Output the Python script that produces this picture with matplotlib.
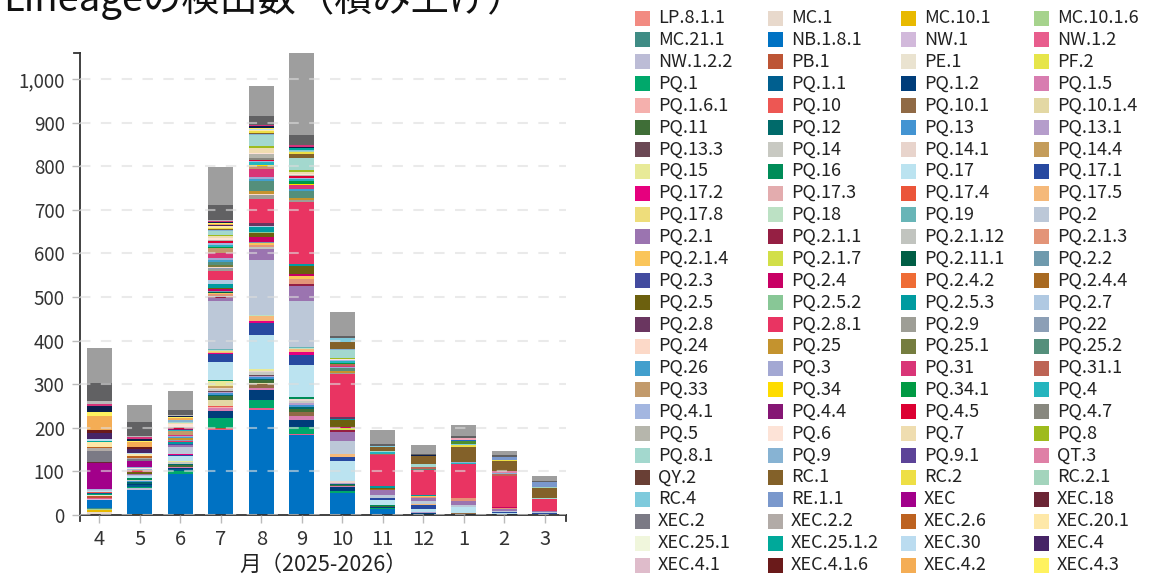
import matplotlib
matplotlib.use("Agg")
import matplotlib.pyplot as plt
from matplotlib.patches import Rectangle
from matplotlib.ticker import FuncFormatter, MultipleLocator
import pandas as pd

plt.rcParams["font.family"] = ["Noto Sans CJK JP", "DejaVu Sans"]

W, H = 1157, 575

month_labels = ["4", "5", "6", "7", "8", "9", "10", "11", "12", "1", "2", "3"]

lineages = [
    "LP.8.1.1", "MC.1", "MC.10.1", "MC.10.1.6",
    "MC.21.1", "NB.1.8.1", "NW.1", "NW.1.2",
    "NW.1.2.2", "PB.1", "PE.1", "PF.2",
    "PQ.1", "PQ.1.1", "PQ.1.2", "PQ.1.5",
    "PQ.1.6.1", "PQ.10", "PQ.10.1", "PQ.10.1.4",
    "PQ.11", "PQ.12", "PQ.13", "PQ.13.1",
    "PQ.13.3", "PQ.14", "PQ.14.1", "PQ.14.4",
    "PQ.15", "PQ.16", "PQ.17", "PQ.17.1",
    "PQ.17.2", "PQ.17.3", "PQ.17.4", "PQ.17.5",
    "PQ.17.8", "PQ.18", "PQ.19", "PQ.2",
    "PQ.2.1", "PQ.2.1.1", "PQ.2.1.12", "PQ.2.1.3",
    "PQ.2.1.4", "PQ.2.1.7", "PQ.2.11.1", "PQ.2.2",
    "PQ.2.3", "PQ.2.4", "PQ.2.4.2", "PQ.2.4.4",
    "PQ.2.5", "PQ.2.5.2", "PQ.2.5.3", "PQ.2.7",
    "PQ.2.8", "PQ.2.8.1", "PQ.2.9", "PQ.22",
    "PQ.24", "PQ.25", "PQ.25.1", "PQ.25.2",
    "PQ.26", "PQ.3", "PQ.31", "PQ.31.1",
    "PQ.33", "PQ.34", "PQ.34.1", "PQ.4",
    "PQ.4.1", "PQ.4.4", "PQ.4.5", "PQ.4.7",
    "PQ.5", "PQ.6", "PQ.7", "PQ.8",
    "PQ.8.1", "PQ.9", "PQ.9.1", "QT.3",
    "QY.2", "RC.1", "RC.2", "RC.2.1",
    "RC.4", "RE.1.1", "XEC", "XEC.18",
    "XEC.2", "XEC.2.2", "XEC.2.6", "XEC.20.1",
    "XEC.25.1", "XEC.25.1.2", "XEC.30", "XEC.4",
    "XEC.4.1", "XEC.4.1.6", "XEC.4.2", "XEC.4.3",
    # legend rows below are cut off by the figure edge
    "XEC.5", "XEC.8", "XFG", "XFG.3",
    "XFJ", "XFV", "XFC", "その他",
]

colors = [
    "#f28b82", "#e8d9cc", "#e8b900", "#a6d38d",
    "#3f8c85", "#0072c3", "#d2b9db", "#e85d8d",
    "#bcbcd6", "#bd5535", "#eae3d0", "#e6e54a",
    "#00a86b", "#005f8f", "#003d7a", "#d87db0",
    "#f5b0ad", "#ed5753", "#906a45", "#e3d8a4",
    "#3f6e37", "#006a6a", "#4394d2", "#b59dcb",
    "#6b4854", "#c8c9c2", "#e8d4cc", "#c49c5a",
    "#e8ea98", "#008c58", "#bbe3f0", "#2749a0",
    "#e6007e", "#e3acae", "#eb553a", "#f5b97a",
    "#eedd7b", "#bce1c4", "#68b5b7", "#bcc8d8",
    "#9b74b0", "#951f43", "#c1c4bf", "#e39478",
    "#fac55a", "#d2df48", "#005e45", "#6f9aad",
    "#434b9f", "#c80064", "#ef6c35", "#a86a22",
    "#6c600e", "#88c796", "#009ba0", "#b0c9e2",
    "#6a3660", "#e93462", "#9e9e96", "#8c9fb6",
    "#fcd9c8", "#c4932e", "#757d3f", "#548f7b",
    "#429fcd", "#a3a8d3", "#d93577", "#bd6455",
    "#c29a6b", "#fedc00", "#009a44", "#25b5be",
    "#a3b6e0", "#851674", "#dc0032", "#88887f",
    "#b6b6ac", "#fde3d7", "#efddb0", "#9ebb1d",
    "#a3d8ce", "#87b3d3", "#5c4398", "#df80a6",
    "#693f35", "#836129", "#eedf45", "#a3d4bc",
    "#7ecadc", "#7a98cc", "#a2008a", "#6b2535",
    "#7b7a85", "#b2aba7", "#bd6220", "#fee8a8",
    "#f0f6dc", "#00a99a", "#bbdcf0", "#462466",
    "#dfbccb", "#6a1a1a", "#f4ad55", "#fff25f",
    "#0d1f4c", "#d6337a", "#4e8f2f", "#2066c8",
    "#f2a7b8", "#b9b9b9", "#616163", "#9e9e9e",
]

# counts per month (lineages not listed are 0)
m04 = {"LP.8.1.1": 2, "MC.1": 5, "MC.10.1": 4, "MC.10.1.6": 2, "MC.21.1": 4, "NB.1.8.1": 17,
       "NW.1": 2, "NW.1.2": 2, "PB.1": 6, "PE.1": 2, "PQ.1": 3, "PQ.1.1": 2, "PQ.10": 2,
       "PQ.17": 2, "PQ.2": 2, "PQ.4.1": 2, "XEC": 61, "XEC.18": 2, "XEC.2": 24, "XEC.2.2": 8,
       "XEC.2.6": 2, "XEC.20.1": 11, "XEC.25.1.2": 2, "XEC.30": 6, "XEC.4": 13, "XEC.4.1.6": 8,
       "XEC.4.2": 31, "XEC.4.3": 9, "XEC.5": 14, "XEC.8": 4, "XFV": 8, "XFC": 41, "その他": 81}
m05 = {"MC.10.1": 3, "NB.1.8.1": 54, "NW.1.2.2": 4, "PQ.1": 4, "PQ.1.1": 3, "PQ.1.2": 2,
       "PQ.1.5": 2, "PQ.12": 3, "PQ.13": 2, "PQ.14": 3, "PQ.16": 5, "PQ.17": 4, "PQ.2": 3,
       "PQ.2.1": 3, "PQ.2.5": 4, "PQ.2.8.1": 3, "PQ.33": 2, "PQ.4.1": 1, "PQ.6": 2, "PQ.9": 2,
       "XEC": 15, "XEC.2": 4, "XEC.2.2": 3, "XEC.2.6": 5, "XEC.20.1": 3, "XEC.30": 4, "XEC.4": 8,
       "XEC.4.1.6": 6, "XEC.4.2": 11, "XEC.4.3": 2, "XEC.5": 5, "XEC.8": 3, "XFV": 4, "XFC": 31,
       "その他": 40}
m06 = {"NB.1.8.1": 93, "PQ.1": 9, "PQ.1.1": 3, "PQ.1.2": 3, "PQ.1.5": 3, "PQ.11": 3, "PQ.12": 2,
       "PQ.13": 2, "PQ.14": 3, "PQ.15": 3, "PQ.17": 11, "PQ.17.1": 2, "PQ.17.2": 4, "PQ.2": 15,
       "PQ.2.1": 4, "PQ.2.3": 2, "PQ.2.4": 2, "PQ.2.5.3": 3, "PQ.2.8.1": 3, "PQ.22": 3, "PQ.25": 3,
       "PQ.26": 2, "PQ.3": 3, "PQ.31": 3, "PQ.33": 9, "PQ.4": 2, "PQ.4.4": 2, "PQ.4.5": 3,
       "PQ.5": 3, "PQ.6": 5, "PQ.7": 4, "PQ.8.1": 2, "PQ.9": 3, "XEC.20.1": 2, "XEC.4.2": 3,
       "XEC.4.3": 2, "XEC.5": 3, "XFV": 3, "XFC": 11, "その他": 44}
m07 = {"LP.8.1.1": 1, "NB.1.8.1": 193, "NW.1.2": 4, "PB.1": 2, "PQ.1": 22, "PQ.1.2": 16,
       "PQ.1.5": 8, "PQ.1.6.1": 2, "PQ.10": 3, "PQ.10.1.4": 14, "PQ.11": 8, "PQ.12": 2,
       "PQ.13": 4, "PQ.13.1": 3, "PQ.13.3": 2, "PQ.14": 5, "PQ.14.1": 3, "PQ.14.4": 5,
       "PQ.15": 11, "PQ.16": 2, "PQ.17": 40, "PQ.17.1": 19, "PQ.17.2": 2, "PQ.17.5": 3,
       "PQ.17.8": 3, "PQ.18": 2, "PQ.19": 2, "PQ.2": 110, "PQ.2.1": 8, "PQ.2.1.1": 2,
       "PQ.2.1.12": 2, "PQ.2.1.3": 3, "PQ.2.1.4": 3, "PQ.2.11.1": 3, "PQ.2.2": 3, "PQ.2.4": 3,
       "PQ.2.5": 2, "PQ.2.5.3": 9, "PQ.2.7": 11, "PQ.2.8.1": 19, "PQ.2.9": 5, "PQ.22": 2,
       "PQ.24": 2, "PQ.25": 2, "PQ.25.1": 3, "PQ.25.2": 8, "PQ.26": 3, "PQ.3": 6, "PQ.31": 11,
       "PQ.33": 11, "PQ.34.1": 4, "PQ.4": 4, "PQ.4.1": 3, "PQ.4.5": 5, "PQ.5": 3, "PQ.6": 5,
       "PQ.7": 4, "PQ.8": 2, "PQ.8.1": 10, "PQ.9": 3, "RC.1": 2, "RC.2": 2, "XEC.20.1": 3,
       "XEC.30": 2, "XEC.4": 2, "XEC.4.2": 2, "XEC.4.3": 2, "XEC.5": 2, "XEC.8": 2, "XFV": 3,
       "XFC": 34, "その他": 88}
m08 = {"NB.1.8.1": 241, "NW.1.2": 4, "PQ.1": 19, "PQ.1.2": 23, "PQ.1.5": 5, "PQ.10.1": 8,
       "PQ.10.1.4": 3, "PQ.11": 7, "PQ.12": 3, "PQ.13": 3, "PQ.13.1": 3, "PQ.13.3": 2,
       "PQ.14": 6, "PQ.14.1": 4, "PQ.15": 4, "PQ.17": 78, "PQ.17.1": 28, "PQ.17.2": 5,
       "PQ.17.5": 11, "PQ.18": 3, "PQ.2": 126, "PQ.2.1": 25, "PQ.2.1.12": 5, "PQ.2.1.3": 4,
       "PQ.2.1.4": 4, "PQ.2.2": 3, "PQ.2.4": 11, "PQ.2.5": 9, "PQ.2.5.2": 3, "PQ.2.5.3": 10,
       "PQ.2.7": 3, "PQ.2.8": 6, "PQ.2.8.1": 55, "PQ.2.9": 10, "PQ.24": 2, "PQ.25": 8,
       "PQ.25.2": 23, "PQ.26": 5, "PQ.3": 3, "PQ.31": 18, "PQ.33": 8, "PQ.34": 3, "PQ.4": 5,
       "PQ.4.1": 3, "PQ.4.5": 3, "PQ.4.7": 3, "PQ.5": 10, "PQ.6": 3, "PQ.7": 11, "PQ.8": 5,
       "PQ.8.1": 24, "PQ.9": 3, "RC.1": 3, "RC.2": 3, "XEC.20.1": 3, "XEC.30": 3, "XEC.4.3": 3,
       "XEC.5": 3, "XEC.8": 3, "XFC": 20, "その他": 69}
m09 = {"NB.1.8.1": 183, "NW.1.2": 3, "PQ.1": 15, "PQ.1.2": 17, "PQ.1.5": 8, "PQ.10.1": 10,
       "PQ.11": 8, "PQ.12": 4, "PQ.13": 4, "PQ.13.1": 4, "PQ.14": 6, "PQ.14.1": 5, "PQ.16": 4,
       "PQ.17": 73, "PQ.17.1": 24, "PQ.17.2": 6, "PQ.17.5": 6, "PQ.18": 3, "PQ.19": 2,
       "PQ.2": 105, "PQ.2.1": 35, "PQ.2.1.1": 5, "PQ.2.1.3": 12, "PQ.2.1.4": 6, "PQ.2.4": 6,
       "PQ.2.5": 17, "PQ.2.5.3": 5, "PQ.2.8.1": 141, "PQ.2.9": 6, "PQ.25": 5, "PQ.25.2": 15,
       "PQ.26": 5, "PQ.31": 8, "PQ.34": 3, "PQ.34.1": 8, "PQ.4": 4, "PQ.4.1": 2, "PQ.4.5": 4,
       "PQ.5": 3, "PQ.6": 3, "PQ.7": 4, "PQ.8": 4, "PQ.8.1": 27, "RC.1": 11, "RC.2": 3,
       "RC.2.1": 3, "RC.4": 3, "XEC.25.1.2": 3, "XEC.30": 2, "XEC.5": 2, "XEC.8": 3, "XFC": 24,
       "その他": 188}
m10 = {"NB.1.8.1": 51, "PQ.1": 4, "PQ.1.2": 9, "PQ.1.5": 2, "PQ.11": 3, "PQ.12": 2,
       "PQ.13.1": 3, "PQ.14.1": 4, "PQ.17": 46, "PQ.17.1": 10, "PQ.17.5": 7, "PQ.2": 29,
       "PQ.2.1": 21, "PQ.2.1.1": 3, "PQ.2.1.4": 2, "PQ.2.1.7": 3, "PQ.2.4": 3, "PQ.2.5": 15,
       "PQ.2.5.3": 4, "PQ.2.8": 3, "PQ.2.8.1": 99, "PQ.2.9": 2, "PQ.25": 6, "PQ.25.2": 7,
       "PQ.3": 2, "PQ.31": 2, "PQ.31.1": 4, "PQ.34.1": 2, "PQ.4": 5, "PQ.4.1": 3, "PQ.6": 2,
       "PQ.8": 2, "PQ.8.1": 18, "PQ.9": 3, "RC.1": 15, "RC.2": 2, "RC.4": 7, "XFC": 6,
       "その他": 55}
m11 = {"NB.1.8.1": 13, "PQ.1": 3, "PQ.1.2": 3, "PQ.11": 1, "PQ.16": 2, "PQ.17": 12,
       "PQ.17.1": 4, "PQ.2": 9, "PQ.2.1": 10, "PQ.2.4.4": 2, "PQ.2.5": 3, "PQ.2.5.3": 5,
       "PQ.2.8.1": 71, "PQ.31.1": 3, "PQ.4": 3, "PQ.8.1": 2, "RC.1": 9, "RC.2": 2, "RC.4": 2,
       "XFC": 3, "その他": 33}
m12 = {"PQ.1.1": 2, "PQ.1.2": 3, "PQ.13.1": 1, "PQ.17": 7, "PQ.17.1": 10, "PQ.17.5": 2,
       "PQ.2": 8, "PQ.2.1": 7, "PQ.2.1.3": 2, "PQ.2.1.4": 2, "PQ.2.5.3": 3, "PQ.2.8.1": 57,
       "PQ.25.2": 2, "PQ.31.1": 3, "PQ.4": 2, "PQ.8.1": 5, "QT.3": 2, "RC.1": 17, "RC.4": 1,
       "XEC.5": 2, "XFC": 3, "その他": 19}
m01 = {"PQ.1.2": 2, "PQ.10.1": 3, "PQ.17": 13, "PQ.2": 5, "PQ.2.1": 9, "PQ.2.1.3": 8,
       "PQ.2.8.1": 78, "PQ.4": 2, "PQ.9": 2, "RC.1": 34, "RC.2": 4, "RC.4": 3, "XFG": 6,
       "XFG.3": 3, "XFJ": 4, "XFC": 5, "その他": 25}
m02 = {"PQ.1.2": 2, "PQ.17": 3, "PQ.17.1": 2, "PQ.2": 3, "PQ.2.1": 3, "PQ.2.1.3": 3,
       "PQ.2.4": 3, "PQ.2.8.1": 70, "PQ.31.1": 6, "PQ.9": 2, "QT.3": 3, "RC.1": 25, "RC.2": 2,
       "RE.1.1": 7, "XFC": 4, "その他": 9}
m03 = {"PQ.1.2": 1, "PQ.17": 2, "PQ.17.1": 2, "PQ.2": 2, "PQ.2.1": 2, "PQ.2.8.1": 27,
       "PQ.8.1": 3, "RC.1": 23, "RC.2.1": 2, "RE.1.1": 12, "XFC": 2, "その他": 11}

monthly = [m04, m05, m06, m07, m08, m09, m10, m11, m12, m01, m02, m03]
df = pd.DataFrame(monthly, index=month_labels)
unknown = set(df.columns) - set(lineages)
if unknown:
    raise ValueError(f"unknown lineages: {unknown}")
df = df.reindex(columns=lineages).fillna(0)

fig = plt.figure(figsize=(W / 100, H / 100), dpi=100)
ax = fig.add_axes([80 / W, 1 - 515 / H, (566 - 80) / W, (515 - 53) / H])

x = list(range(len(month_labels)))
bottom = [0.0] * len(x)
for name, col in zip(lineages, colors):
    vals = df[name].tolist()
    ax.bar(x, vals, bottom=bottom, width=0.62, color=col, linewidth=0, zorder=1)
    bottom = [b + v for b, v in zip(bottom, vals)]

ax.set_xlim(-0.474, 11.526)
ax.set_ylim(0, max(bottom))
ax.set_xticks(x)
ax.set_xticklabels(month_labels)
ax.yaxis.set_major_locator(MultipleLocator(100))
ax.yaxis.set_major_formatter(FuncFormatter(lambda v, p: f"{int(v):,}"))

ax.set_axisbelow(False)
ax.yaxis.grid(True, color="#dddddd", alpha=0.6, linestyle=(0, (5, 5)), linewidth=1.5)

for s in ("top", "right"):
    ax.spines[s].set_visible(False)
for s in ("left", "bottom"):
    ax.spines[s].set_color("#333333")
    ax.spines[s].set_linewidth(1.3)
ax.tick_params(axis="both", length=6, width=1, color="#bbbbbb", labelcolor="#333333")
ax.tick_params(axis="y", labelsize=13.5, pad=5)
ax.tick_params(axis="x", labelsize=14.5, pad=4)

# outer ends of the axis domains
ax.plot([0, -6 / 486], [1, 1], transform=ax.transAxes, color="#333333", lw=1.3, clip_on=False)
ax.plot([0, 0], [0, -6 / 462], transform=ax.transAxes, color="#333333", lw=1.3, clip_on=False)
ax.plot([1, 1], [0, -6 / 462], transform=ax.transAxes, color="#333333", lw=1.3, clip_on=False)

ax.set_xlabel("月（2025-2026）", fontsize=15.5, color="#222222", labelpad=3)

fig.text(3 / W, 1 - 11 / H, "Lineageの検出数（積み上げ）", fontsize=27.5, va="baseline",
         color="#111111")

# legend, filled row by row in 4 columns
x0, dx = 635, 133
y0, dy = 18, 21.88
for i, (name, col) in enumerate(zip(lineages, colors)):
    r, c = divmod(i, 4)
    xs = x0 + c * dx
    yc = y0 + r * dy
    fig.patches.append(Rectangle((xs / W, 1 - (yc + 7.5) / H), 15 / W, 15 / H,
                                 transform=fig.transFigure, facecolor=col,
                                 edgecolor="none", figure=fig))
    fig.text((xs + 23) / W, 1 - yc / H, name, va="center", fontsize=13, color="#222222")

fig.savefig("out.png", dpi=100)
